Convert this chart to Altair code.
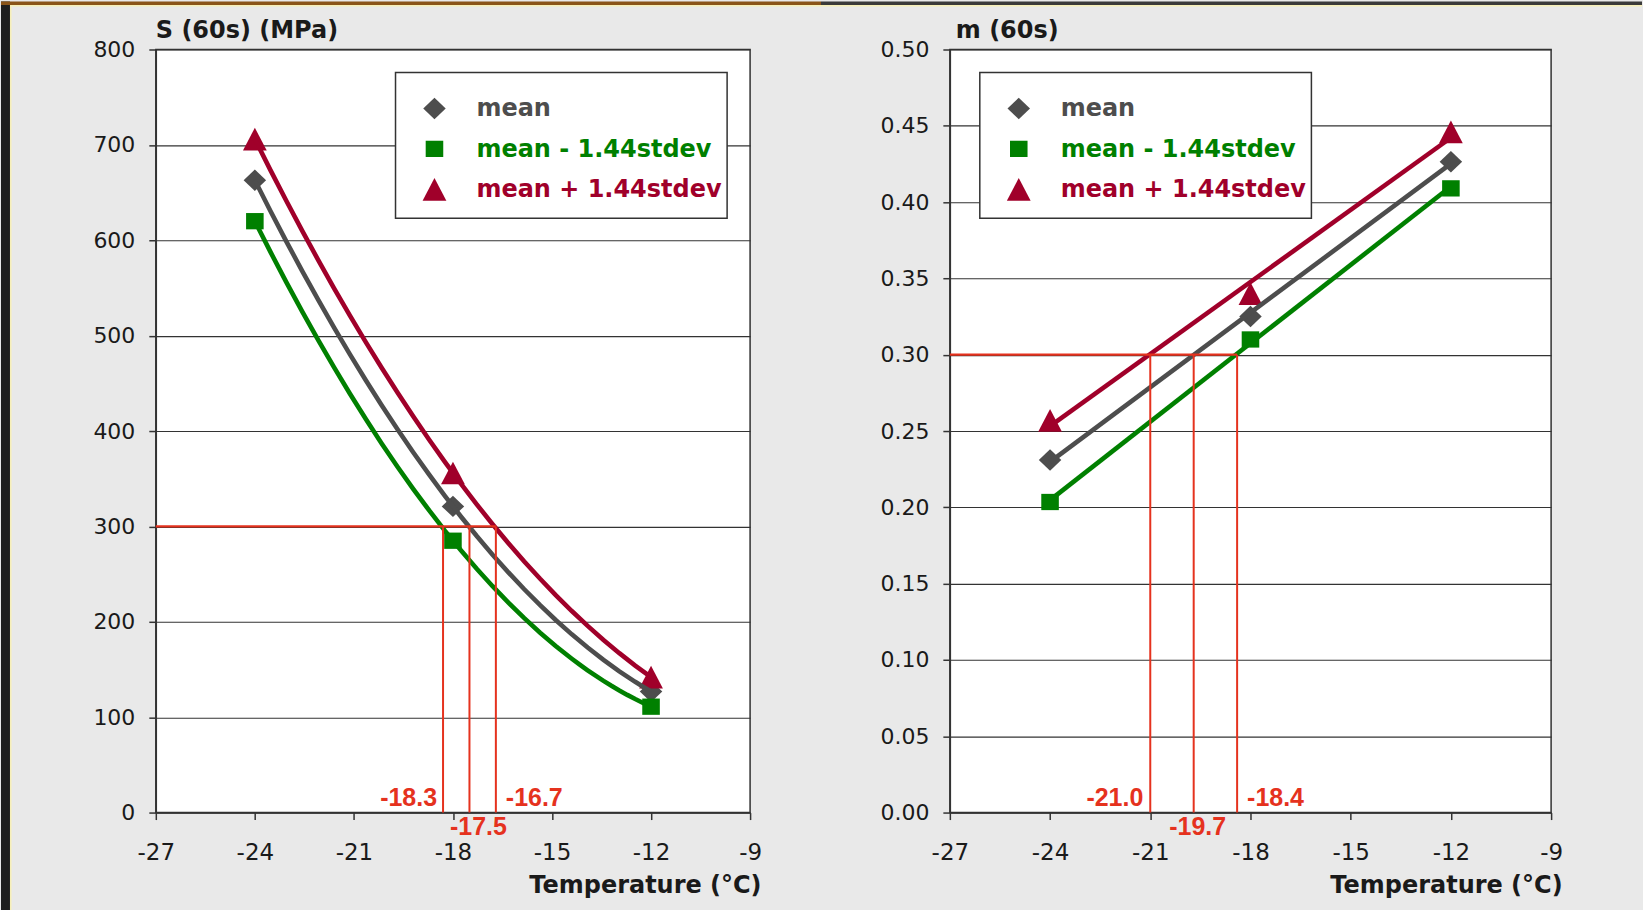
import altair as alt
import pandas as pd

# ---------------- data ----------------
temperatures = [-24, -18, -12]
series_names = ["mean", "mean - 1.44stdev", "mean + 1.44stdev"]

S_mean = [663, 321, 127]
S_minus = [620, 285, 111]
S_plus = [706, 356, 142]

m_mean = [0.231, 0.325, 0.4265]
m_minus = [0.2035, 0.310, 0.409]
m_plus = [0.257, 0.340, 0.446]

S_limit = 300
m_limit = 0.30
S_crossings = [-18.3, -17.5, -16.7]
m_crossings = [-21.0, -19.7, -18.4]

x_domain = [-27, -9]
x_ticks = [-27, -24, -21, -18, -15, -12, -9]
S_ticks = [0, 100, 200, 300, 400, 500, 600, 700, 800]
m_ticks = [0.00, 0.05, 0.10, 0.15, 0.20, 0.25, 0.30, 0.35, 0.40, 0.45, 0.50]

# ---------------- styles ----------------
series_colors = ["#4d4d4d", "#008000", "#a0002a"]
shape_paths = [
    "M0,-1L1.05,0L0,1L-1.05,0Z",
    "M-0.82,-0.76H0.82V0.76H-0.82Z",
    "M0,-1.06L1.11,1.06L-1.11,1.06Z",
]
FONT = "DejaVu Sans"
LABEL_FONT = "Liberation Sans"
BG = "#e9e9e9"
RED = "#e5321e"
INK = "#1a1a1a"
PLOT_H = 764
MARK_SIZE = 460
MINUS_FIX = "replace(datum.label, '\u2212', '-')"
# page frame offsets of the left plot (for the decorative slide border)
LEFT_X0, TOP_Y0, PAGE_W, PAGE_H = 155, 48, 1643, 910


def long_frame(values_by_series):
    rows = []
    for name, vals in zip(series_names, values_by_series):
        for t, v in zip(temperatures, vals):
            rows.append({"T": t, "v": v, "series": name})
    return pd.DataFrame(rows)


def box(x1, x2, y1, y2, fill):
    return alt.Chart(pd.DataFrame({"k": [0]})).mark_rect(fill=fill, strokeWidth=0).encode(
        x=alt.value(x1), x2=alt.value(x2), y=alt.value(y1), y2=alt.value(y2)
    )


def frame_layers():
    ox, oy = -LEFT_X0, -TOP_Y0
    return [
        box(ox, ox + 9, oy, oy + PAGE_H, "#1e1e1e"),
        box(ox + 9, ox + 10.5, oy + 4, oy + PAGE_H, "#f6efb8"),
        box(ox, ox + 821, oy, oy + 3.5, "#8a5418"),
        box(ox + 821, ox + PAGE_W, oy, oy + 3.5, "#3a3a3a"),
        box(ox + 9, ox + PAGE_W, oy + 3.5, oy + 5, "#f6efb8"),
    ]


def legend_layers(lx):
    top = 23
    layers = [
        alt.Chart(pd.DataFrame({"k": [0]})).mark_rect(
            fill="white", stroke="#333", strokeWidth=1.5
        ).encode(x=alt.value(lx), x2=alt.value(lx + 332), y=alt.value(top), y2=alt.value(top + 146))
    ]
    for i, (name, col, shp) in enumerate(zip(series_names, series_colors, shape_paths)):
        row = pd.DataFrame({"series": [name]})
        layers.append(
            alt.Chart(row).mark_point(shape=shp, size=MARK_SIZE, filled=True, opacity=1,
                                      color=col, strokeWidth=0)
            .encode(x=alt.value(lx + 39), y=alt.value(top + 36 + 40.5 * i))
        )
        layers.append(
            alt.Chart(row).mark_text(align="left", baseline="alphabetic", font=FONT,
                                     fontSize=24, fontWeight="bold", color=col)
            .encode(x=alt.value(lx + 81), y=alt.value(top + 44 + 40.5 * i), text="series:N")
        )
    return layers


def panel(df, title, y_domain, y_ticks, y_format, method, crossings, limit,
          width, legend_x, label_dx, title_dx, with_frame):
    x_scale = alt.Scale(domain=x_domain, nice=False, zero=False)
    y_scale = alt.Scale(domain=y_domain, nice=False, zero=False)
    x_axis = alt.Axis(
        values=x_ticks, title="Temperature (°C)", grid=False, labelExpr=MINUS_FIX,
        labelFont=FONT, labelFontSize=23, labelColor=INK, labelPadding=40,
        labelBaseline="alphabetic", labelFlush=False, labelOverlap=False,
        tickSize=7, tickColor="#333", tickWidth=1.5,
        domainColor="#333", domainWidth=1.5,
        titleFont=FONT, titleFontSize=24, titleFontWeight="bold", titleColor=INK,
        titleX=width + 11, titleY=80, titleAlign="right",
        titleBaseline="alphabetic", titleAnchor="end",
    )
    y_axis = alt.Axis(
        values=y_ticks, format=y_format, title=None, grid=True,
        gridColor="#333333", gridWidth=1.1,
        labelFont=FONT, labelFontSize=22, labelColor=INK, labelPadding=14,
        labelOverlap=False, labelFlush=False,
        tickSize=7, tickColor="#333", tickWidth=1.5,
        domainColor="#333", domainWidth=1.5,
    )
    X = alt.X("T:Q", scale=x_scale, axis=x_axis)
    Y = alt.Y("v:Q", scale=y_scale, axis=y_axis)

    color_scale = alt.Scale(domain=series_names, range=series_colors)
    shape_scale = alt.Scale(domain=series_names, range=shape_paths)

    base = alt.Chart(df)
    if method == "poly":
        trend = base.transform_regression("T", "v", groupby=["series"], method="poly", order=2)
    else:
        trend = base.transform_regression("T", "v", groupby=["series"], method="linear")
    lines = trend.mark_line(strokeWidth=4.6).encode(
        x=X, y=Y,
        stroke=alt.Stroke("series:N", scale=color_scale, legend=None),
        detail="series:N",
    )
    points = base.mark_point(filled=True, opacity=1, size=MARK_SIZE, strokeWidth=0).encode(
        x=X, y=Y,
        color=alt.Color("series:N", scale=color_scale, legend=None),
        shape=alt.Shape("series:N", scale=shape_scale, legend=None),
    )

    hline = alt.Chart(pd.DataFrame({"T": [x_domain[0]], "T2": [max(crossings)], "v": [limit]})).mark_rule(
        color=RED, strokeWidth=2.2
    ).encode(x=X, x2="T2:Q", y=Y)
    vlines = alt.Chart(pd.DataFrame({"T": crossings, "v": [limit] * len(crossings),
                                     "v0": [y_domain[0]] * len(crossings)})).mark_rule(
        color=RED, strokeWidth=2
    ).encode(x=X, y=Y, y2="v0:Q")

    label_styles = [("right", -7), ("center", 22), ("left", -7)]
    texts = []
    for c, (align, dy), dx in zip(crossings, label_styles, label_dx):
        texts.append(
            alt.Chart(pd.DataFrame({"T": [c], "v": [y_domain[0]]}))
            .transform_calculate(lab="replace(format(datum.T, '.1f'), '\u2212', '-')")
            .mark_text(
                align=align, baseline="alphabetic", dx=dx, dy=dy, font=LABEL_FONT,
                fontSize=25, fontWeight="bold", color=RED,
            ).encode(x=X, y=Y, text="lab:N")
        )

    title_mark = alt.Chart(pd.DataFrame({"t": [title]})).mark_text(
        align="left", baseline="alphabetic", font=FONT, fontSize=24, fontWeight="bold", color=INK
    ).encode(x=alt.value(title_dx), y=alt.value(-12), text="t:N")

    deco = frame_layers() if with_frame else []
    return alt.layer(points, lines, hline, vlines, *texts, *legend_layers(legend_x),
                     title_mark, *deco).properties(width=width, height=PLOT_H)


left = panel(long_frame([S_mean, S_minus, S_plus]), "S (60s) (MPa)", [0, 800], S_ticks, "d",
             "poly", S_crossings, S_limit, 595, 240, [-6, 9, 10], 0, True)
right = panel(long_frame([m_mean, m_minus, m_plus]), "m (60s)", [0, 0.5], m_ticks, ".2f",
              "linear", m_crossings, m_limit, 602, 30, [-7, 4, 10], 6, False)

chart = (
    alt.hconcat(left, right, spacing=200, bounds="flush")
    .resolve_scale(color="independent", shape="independent", stroke="independent")
    .configure(background=BG, padding={"left": 0, "top": 0, "right": 0, "bottom": 0}, font=FONT)
    .configure_view(stroke="#333", strokeWidth=1.5, fill="white")
)

chart.save("out.html", embed_options={"renderer": "svg", "actions": False})
